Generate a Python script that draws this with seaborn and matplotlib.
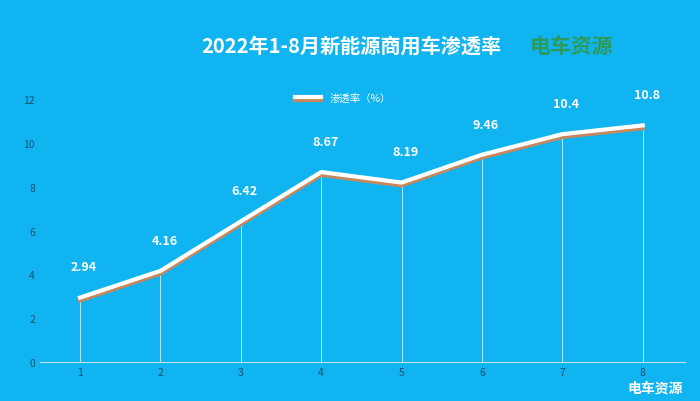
import matplotlib
matplotlib.use("Agg")
import matplotlib.pyplot as plt
import matplotlib.patheffects as pe
from matplotlib import font_manager as fm
import seaborn as sns
import pandas as pd

months = [1, 2, 3, 4, 5, 6, 7, 8]
rates = [2.94, 4.16, 6.42, 8.67, 8.19, 9.46, 10.4, 10.8]
labels = ["2.94", "4.16", "6.42", "8.67", "8.19", "9.46", "10.4", "10.8"]
yticks = [0, 2, 4, 6, 8, 10, 12]

cjk = None
for f in sorted(fm.findSystemFonts()):
    if "CJK" in f and "Sans" in f and "Serif" not in f:
        try:
            fm.fontManager.addfont(f)
            name = fm.FontProperties(fname=f).get_name()
        except Exception:
            continue
        if "Sans" in name:
            cjk = name
            if "SC" in name:
                break
fam = [cjk or "Noto Sans CJK SC", "DejaVu Sans"]
plt.rcParams["font.family"] = "sans-serif"
plt.rcParams["font.sans-serif"] = fam

bg = "#0fb4f0"
fig = plt.figure(figsize=(7, 4.02), dpi=100, facecolor=bg)
ax = fig.add_axes([0.057, 0.097, 0.922, 0.654])
ax.set_facecolor(bg)
df = pd.DataFrame({"m": months, "r": rates})

ax.vlines(df["m"], 0, df["r"], colors="white", linewidth=0.6, alpha=0.8)
sns.lineplot(data=df, x="m", y="r", ax=ax, color="white", linewidth=3,
             label="渗透率（%）",
             path_effects=[pe.SimpleLineShadow(offset=(0, -2), shadow_color="#c8875a", alpha=1), pe.Normal()])
for m, r, t in zip(months, rates, labels):
    ax.text(m + 0.05, r + 1.1, t, ha="center", va="bottom", color="white", fontsize=9, fontweight="bold")

ax.set_xlim(0.5, 8.53)
ax.set_ylim(0, 12)
ax.set_yticks(yticks)
ax.set_xticks(months)
ax.tick_params(colors="#1d4e70", labelsize=7.5, length=0)
for s in ["top", "right", "left"]:
    ax.spines[s].set_visible(False)
ax.spines["bottom"].set_color("#b9e6fa")
ax.set_xlabel("")
ax.set_ylabel("")
ax.legend(loc="upper center", bbox_to_anchor=(0.47, 1.06), frameon=False,
          fontsize=7.5, labelcolor="white", handlelength=2.5)

fig.text(0.502, 0.885, "2022年1-8月新能源商用车渗透率", ha="center", va="center",
         color="white", fontsize=14.5, fontweight="bold")
fig.text(0.757, 0.885, "电车资源", ha="left", va="center", color="#2e9a5a",
         fontsize=15, fontweight="bold")
fig.text(0.975, 0.015, "电车资源", ha="right", va="bottom", color="white",
         fontsize=10, fontweight="bold")
fig.savefig("out.png", dpi=100, facecolor=bg)
